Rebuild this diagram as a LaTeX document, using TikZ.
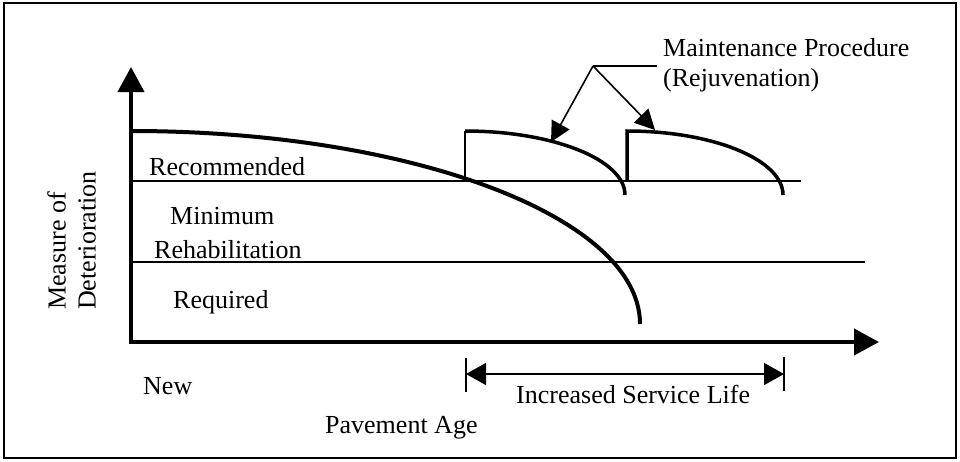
\documentclass[tikz,border=0pt]{standalone}
\usepackage{fontspec}
\setmainfont{Liberation Serif}
\usetikzlibrary{arrows.meta}
\begin{document}
\begin{tikzpicture}[x=1pt,y=-1pt,
  heavy/.style={line width=4pt},
  light/.style={line width=1.6pt},
  lbl/.style={inner sep=0pt, anchor=base west, font=\fontsize{26}{30}\selectfont},
  bigtip/.tip={Triangle[length=25pt,width=26pt]},
  midtip/.tip={Triangle[length=20pt,width=20pt]},
  dimtip/.tip={Triangle[length=20pt,width=22pt]}]
\useasboundingbox (0,0) rectangle (960,461);
% frame
\draw[line width=2pt] (4,3) rectangle (956,458);
% axes
\coordinate (O) at (131,342);
\coordinate (Ytop) at (131,67);
\coordinate (Xend) at (879,342);
\draw[heavy, line join=miter, bigtip-bigtip] (Ytop) -- (O) -- (Xend);
% threshold lines
\coordinate (RecL) at (131,181);
\coordinate (RecR) at (801,181);
\coordinate (RehL) at (131,262);
\coordinate (RehR) at (865,262);
\draw[light] (RecL) -- (RecR);
\draw[light] (RehL) -- (RehR);
% main deterioration curve
\coordinate (M0) at (131,131);
\coordinate (M1) at (640,324);
\draw[heavy] (M0) .. controls (412,131) and (640,217.4) .. (M1);
% first treatment
\coordinate (A0) at (465,181);
\coordinate (A1) at (465,131);
\coordinate (A2) at (625,195);
\draw[light] (A0) -- (A1);
\draw[line width=3.5pt] (A1) .. controls (553,131) and (625,159.7) .. (A2);
% second treatment
\coordinate (B0) at (627,181);
\coordinate (B1) at (627,131);
\coordinate (B2) at (783,195);
\draw[line width=3.5pt] (B0) -- (B1) .. controls (713,131) and (783,159.7) .. (B2);
% callout
\coordinate (C) at (593,66);
\coordinate (Cend) at (657,66);
\coordinate (T1) at (551,142);
\coordinate (T2) at (655,130);
\draw[light] (Cend) -- (C);
\draw[light, -midtip] (C) -- (T1);
\draw[light, -midtip] (C) -- (T2);
\node[lbl] (mp) at (663,56) {Maintenance Procedure};
\node[lbl] (rj) at (663,86) {(Rejuvenation)};
% service life dimension
\coordinate (D1) at (466,374);
\coordinate (D2) at (784,374);
\coordinate (D1a) at (466,358);
\coordinate (D1b) at (466,392);
\coordinate (D2a) at (784,357);
\coordinate (D2b) at (784,391);
\draw[line width=2.5pt] (D1a) -- (D1b);
\draw[line width=2.5pt] (D2a) -- (D2b);
\draw[light, dimtip-dimtip] (D1) -- (D2);
\node[lbl] (isl) at (516,403) {Increased Service Life};
% labels
\node[lbl] (rec) at (149,175) {Recommended};
\node[lbl] (min) at (170,224) {Minimum};
\node[lbl] (reh) at (154,258) {Rehabilitation};
\node[lbl] (req) at (173,308) {Required};
\node[lbl] (new) at (143,394) {New};
\node[lbl] (pa) at (325,433) {Pavement Age};
\node[inner sep=0pt, anchor=north west, rotate=90, align=left,
      font=\fontsize{26}{30}\selectfont] (ylab) at (47,310) {Measure of\\Deterioration};
\end{tikzpicture}
\end{document}
